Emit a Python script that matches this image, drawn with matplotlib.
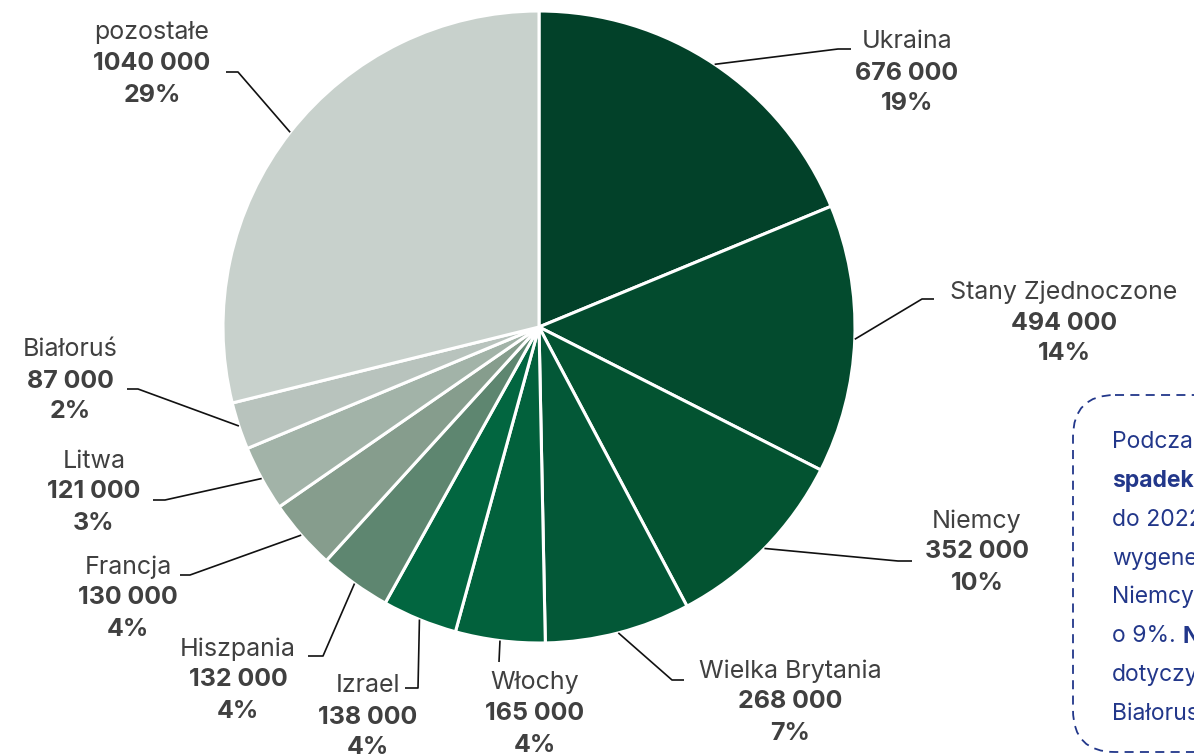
import matplotlib
matplotlib.use("Agg")
import numpy as np
from matplotlib import pyplot as plt
from matplotlib.patches import FancyBboxPatch

# data
countries = ["Ukraina", "Stany Zjednoczone", "Niemcy", "Wielka Brytania", "Włochy",
             "Izrael", "Hiszpania", "Francja", "Litwa", "Białoruś", "pozostałe"]
values = [676000, 494000, 352000, 268000, 165000, 138000, 132000, 130000, 121000, 87000, 1040000]
value_labels = ["676 000", "494 000", "352 000", "268 000", "165 000", "138 000",
                "132 000", "130 000", "121 000", "87 000", "1040 000"]
pct_labels = ["19%", "14%", "10%", "7%", "4%", "4%", "4%", "4%", "3%", "2%", "29%"]
colors = ["#024129", "#034b2e", "#035331", "#035837", "#02613c", "#026640",
          "#5e8670", "#869d8d", "#a2b3a8", "#b8c3bd", "#c8d1cc"]

# label layout in pixel coords (block centre x, first line y), leader elbow and end
label_pos = [(907, 42), (1064, 292), (977, 521), (790, 671), (535, 683), (368, 686),
             (238, 649), (128, 567), (94, 461), (70, 350), (152, 33)]
elbow = [(838, 49), (922, 299), (898, 561), (672, 680), (499, 662), (418, 688),
         (323, 656), (190, 575), (165, 500), (138, 389), (238, 72)]
line_end = [(851, 49), (934, 299), (912, 561), (684, 680), (499, 662), (405, 688),
            (308, 656), (180, 575), (153, 500), (127, 389), (226, 72)]

note_lines = ["Podczas", "spadek", "do 2022 r.", "wygenerowali", "Niemcy",
              "o 9%.", "dotyczyło", "Białorusi"]

W, H = 1194, 756
cx, cy, R = 539, 327, 316
text_col = "#404040"
blue = "#22378a"
font = "Inter"
fs = 18

fig = plt.figure(figsize=(W / 100, H / 100), dpi=100)
ax = fig.add_axes([0, 0, 1, 1])

# y axis is inverted, so counterclockwise in data = clockwise on screen
wedges, _ = ax.pie(values, colors=colors, startangle=-90, counterclock=True,
                   center=(cx, cy), radius=R,
                   wedgeprops=dict(edgecolor="white", linewidth=2.2))

ax.set_xlim(0, W)
ax.set_ylim(H, 0)
ax.set_aspect("equal")
ax.axis("off")

for i, w in enumerate(wedges):
    mid = np.deg2rad((w.theta1 + w.theta2) / 2)
    px = cx + R * np.cos(mid)
    py = cy + R * np.sin(mid)
    ex, ey = elbow[i]
    lx, ly = line_end[i]
    ax.plot([px, ex, lx], [py, ey, ly], color="#111111", lw=1.2, solid_capstyle="butt")

    x, y = label_pos[i]
    ax.text(x, y, countries[i], ha="center", va="center", fontsize=fs,
            color=text_col, family=font)
    ax.text(x, y + 31, value_labels[i], ha="center", va="center", fontsize=fs,
            fontweight="bold", color=text_col, family=font)
    ax.text(x, y + 62, pct_labels[i], ha="center", va="center", fontsize=fs,
            fontweight="bold", color=text_col, family=font)

# side note box (cut off by the right edge)
box = FancyBboxPatch((1073, 395), 300, 357, boxstyle="round,pad=0,rounding_size=42",
                     fill=False, edgecolor=blue, lw=1.3, linestyle=(0, (5, 3.5)))
ax.add_patch(box)

for j, line in enumerate(note_lines):
    ax.text(1112, 442 + j * 38.8, line, ha="left", va="center", fontsize=16.5,
            color=blue, family=font, fontweight="bold" if j == 1 else "normal")
ax.text(1182, 442 + 5 * 38.8, "Największy", ha="left", va="center", fontsize=16.5,
        color=blue, family=font, fontweight="bold")

fig.savefig("out.png", dpi=100)
